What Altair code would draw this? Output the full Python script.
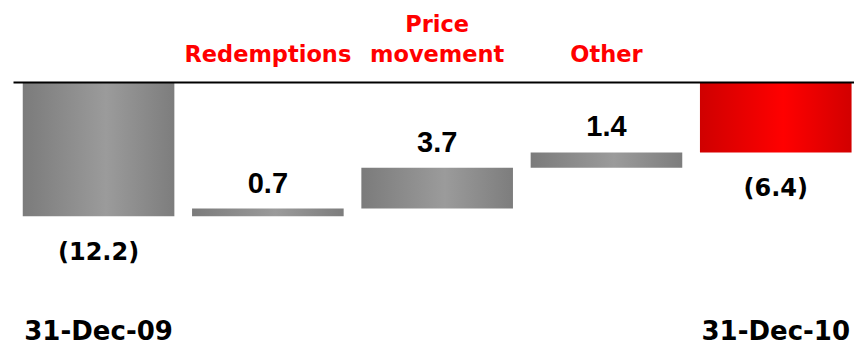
import altair as alt
import pandas as pd

# Waterfall: opening balance, movements, closing balance
categories = ["31-Dec-09", "Redemptions", "Price movement", "Other", "31-Dec-10"]
changes = [-12.2, 0.7, 3.7, 1.4, -6.4]
kinds = ["total", "step", "step", "step", "total"]
value_labels = ["(12.2)", "0.7", "3.7", "1.4", "(6.4)"]

rows = []
level = 0.0
for cat, chg, kind, lab in zip(categories, changes, kinds, value_labels):
    if kind == "total":
        start, end = 0.0, chg
    else:
        start, end = level, level + chg
    level = round(end, 4)
    start, end = round(start, 4), round(end, 4)
    rows.append(dict(category=cat, start=start, end=end, kind=kind, label=lab,
                     top=max(start, end), bottom=min(start, end)))
df = pd.DataFrame(rows)

x_scale = alt.Scale(paddingInner=0.1045, paddingOuter=0.036, align=0.8)
y_scale = alt.Scale(domain=[-20, 0], nice=False, zero=False)

# Movement names sit above the zero line, two text rows each
top_axis = alt.Axis(
    orient="top", title=None, ticks=False, tickSize=0, grid=False,
    domain=True, domainColor="#000000", domainWidth=2, zindex=1,
    labelExpr=(
        "indexof(datum.label, '-Dec-') >= 0 ? '' : "
        "(indexof(datum.label, ' ') >= 0 ? split(datum.label, ' ') : ['', datum.label])"
    ),
    labelColor="#ff0000", labelFont="DejaVu Sans", labelFontWeight="bold",
    labelFontSize=22.5, labelLineHeight=30, labelPadding=46, labelAngle=0,
    labelLimit=400, labelOverlap=False,
)
# Balance dates along the bottom
bottom_axis = alt.Axis(
    orient="bottom", title=None, ticks=False, tickSize=0, grid=False, domain=False,
    labelExpr="indexof(datum.label, '-Dec-') >= 0 ? datum.label : ''",
    labelColor="#000000", labelFont="DejaVu Sans", labelFontWeight="bold",
    labelFontSize=26, labelPadding=16, labelAngle=0, labelLimit=400,
    labelOverlap=False,
)

grey = alt.Gradient(
    gradient="linear", x1=0, x2=1, y1=0, y2=0,
    stops=[alt.GradientStop(color="#7b7b7b", offset=0),
           alt.GradientStop(color="#9b9b9b", offset=0.55),
           alt.GradientStop(color="#7d7d7d", offset=1)],
)
red = alt.Gradient(
    gradient="linear", x1=0, x2=1, y1=0, y2=0,
    stops=[alt.GradientStop(color="#cf0000", offset=0),
           alt.GradientStop(color="#ff0000", offset=0.55),
           alt.GradientStop(color="#d20000", offset=1)],
)

base = alt.Chart(df)

grey_bars = base.transform_filter("datum.category != '31-Dec-10'").mark_bar(color=grey).encode(
    x=alt.X("category:N", sort=categories, scale=x_scale, axis=top_axis),
    y=alt.Y("start:Q", scale=y_scale, axis=None),
    y2="end:Q",
)
red_bars = base.transform_filter("datum.category == '31-Dec-10'").mark_bar(color=red).encode(
    x=alt.X("category:N", sort=categories, scale=x_scale, axis=bottom_axis),
    y=alt.Y("start:Q", scale=y_scale, axis=None),
    y2="end:Q",
)

step_text = base.transform_filter("datum.kind == 'step'").mark_text(
    font="Liberation Sans", fontWeight="bold", fontSize=29,
    baseline="bottom", dy=-10, color="#000000",
).encode(
    x=alt.X("category:N", sort=categories, scale=x_scale, axis=None),
    y=alt.Y("top:Q", scale=y_scale, axis=None),
    text="label:N",
)
total_text = base.transform_filter("datum.kind == 'total'").mark_text(
    font="DejaVu Sans", fontWeight="bold", fontSize=24,
    baseline="top", dy=25, color="#000000",
).encode(
    x=alt.X("category:N", sort=categories, scale=x_scale, axis=None),
    y=alt.Y("bottom:Q", scale=y_scale, axis=None),
    text="label:N",
)

chart = alt.layer(grey_bars, red_bars, step_text, total_text).properties(
    width=841, height=220,
    padding={"left": 13, "top": 82, "right": 0, "bottom": 42},
    autosize="none", background="#ffffff",
).configure_view(strokeWidth=0)

chart.save("out.html", embed_options={"renderer": "svg", "actions": False})
